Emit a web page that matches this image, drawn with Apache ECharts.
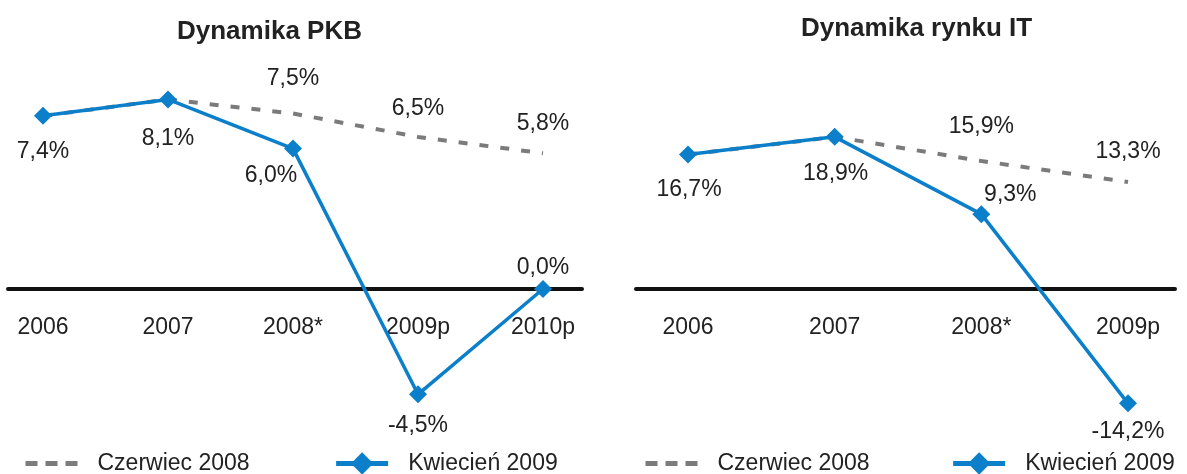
<!DOCTYPE html>
<html>
<head>
<meta charset="utf-8">
<script src="https://cdn.jsdelivr.net/npm/echarts@6.0.0/dist/echarts.min.js"></script>
<style>
  html, body { margin: 0; padding: 0; background: #ffffff; }
  #chart { width: 1187px; height: 474px; }
</style>
</head>
<body>
<div id="chart"></div>
<script>
// ---------------- DATA ----------------
const titlePKB = 'Dynamika PKB';
const titleIT = 'Dynamika rynku IT';
const seriesNames = ['Czerwiec 2008', 'Kwiecień 2009'];

const categoriesPKB = ['2006', '2007', '2008*', '2009p', '2010p'];
const pkbCzerwiec2008 = [7.4, 8.1, 7.5, 6.5, 5.8];
const pkbKwiecien2009 = [7.4, 8.1, 6.0, -4.5, 0.0];

const categoriesIT = ['2006', '2007', '2008*', '2009p'];
const itCzerwiec2008 = [16.7, 18.9, 15.9, 13.3];
const itKwiecien2009 = [16.7, 18.9, 9.3, -14.2];

// ---------------- STYLE ----------------
const FONT = "'Liberation Sans', Arial, Helvetica, sans-serif";
const TEXT = '#222222';
const BLUE = '#0b7fc9';
const GRAY = '#7b7b7b';

// label placement (offset of label centre from the point), null = hidden
const pkbCzerwienOffsets = [null, null, [0, -35], [0, -28], [0, -30]];
const pkbKwiecienOffsets = [[0, 36], [0, 39], [-22, 27], [0, 31], [0, -21]];
const itCzerwienOffsets = [null, null, [0, -34], [0, -30]];
const itKwiecienOffsets = [[1, 35], [1, 37], [29, -19], [0, 28]];

function fmt(v) { return v.toFixed(1).replace('.', ',') + '%'; }

function buildData(values, offsets) {
  return values.map((v, i) => {
    const off = offsets[i];
    if (!off) return { value: v, label: { show: false } };
    return { value: v, label: { show: true, position: 'inside', offset: off } };
  });
}

const labelStyle = {
  show: true,
  color: TEXT,
  fontSize: 23,
  fontFamily: FONT,
  formatter: p => fmt(p.value)
};

function dashedSeries(xi, values, offsets) {
  return {
    name: seriesNames[0], type: 'line', xAxisIndex: xi, yAxisIndex: xi,
    data: buildData(values, offsets),
    symbol: 'circle', symbolSize: 4,
    itemStyle: { color: 'rgba(0,0,0,0)' },
    lineStyle: { color: GRAY, width: 4, type: [9, 12] },
    label: labelStyle, z: 3, silent: true, animation: false
  };
}
function blueSeries(xi, values, offsets) {
  return {
    name: seriesNames[1], type: 'line', xAxisIndex: xi, yAxisIndex: xi,
    data: buildData(values, offsets),
    symbol: 'diamond', symbolSize: 18,
    itemStyle: { color: BLUE },
    lineStyle: { color: BLUE, width: 3.5 },
    label: labelStyle, z: 4, silent: true, animation: false
  };
}

// data axis (hidden) in the plot grids
function dataCatAxis(gi, cats) {
  return { type: 'category', gridIndex: gi, data: cats, boundaryGap: false, show: false };
}
// category label axis, sitting at the bottom of a grid whose bottom edge is the zero line
function labelCatAxis(gi, cats) {
  return {
    type: 'category', gridIndex: gi, data: cats, boundaryGap: false, position: 'bottom',
    axisLine: { show: false }, axisTick: { show: false },
    axisLabel: { color: TEXT, fontSize: 23, fontFamily: FONT, margin: 27, interval: 0 },
    splitLine: { show: false }
  };
}
function zeroAxis(gi) {
  return {
    type: 'value', gridIndex: gi, min: 0, max: 1,
    axisLine: { show: true, onZero: true, lineStyle: { color: '#111111', width: 4 } },
    axisTick: { show: false }, axisLabel: { show: false }, splitLine: { show: false }
  };
}
function valAxis(gi, min, max) {
  return { type: 'value', gridIndex: gi, min: min, max: max, show: false, splitLine: { show: false } };
}

function legendFor(left, gap) {
  return {
    left: left, top: 452, width: 544, orient: 'horizontal', padding: 0,
    itemWidth: 52, itemHeight: 28, itemGap: gap,
    selectedMode: false,
    textStyle: { color: TEXT, fontSize: 23, fontFamily: FONT, padding: [0, 0, 0, 15] },
    data: [
      { name: seriesNames[0], itemStyle: { opacity: 0 }, lineStyle: { color: GRAY, width: 5, type: [12, 8] } },
      { name: seriesNames[1], lineStyle: { color: BLUE, width: 5 } }
    ]
  };
}

function gridBox(left, width, top, height) {
  return { left: left, width: width, top: top, height: height, containLabel: false, outerBoundsMode: 'none' };
}

const option = {
  backgroundColor: '#ffffff',
  animation: false,
  textStyle: { fontFamily: FONT },
  title: [
    { text: titlePKB, left: 172, top: 14, textStyle: { fontSize: 26, fontWeight: 'bold', color: TEXT, fontFamily: FONT } },
    { text: titleIT, left: 796, top: 11, textStyle: { fontSize: 26, fontWeight: 'bold', color: TEXT, fontFamily: FONT } }
  ],
  legend: [legendFor(23, 84), legendFor(643, 81)],
  grid: [
    gridBox(43, 500, 55, 397.8),     // 0: PKB plot
    gridBox(688, 440, 95.8, 354.2),  // 1: IT plot
    gridBox(8, 574, 55, 397.8),      // 2: PKB zero line
    gridBox(636, 539, 95.8, 354.2),  // 3: IT zero line
    gridBox(43, 500, 55, 234),       // 4: PKB category labels (bottom = zero line)
    gridBox(688, 440, 95.8, 193.2)   // 5: IT category labels (bottom = zero line)
  ],
  xAxis: [
    dataCatAxis(0, categoriesPKB), dataCatAxis(1, categoriesIT),
    zeroAxis(2), zeroAxis(3),
    labelCatAxis(4, categoriesPKB), labelCatAxis(5, categoriesIT)
  ],
  yAxis: [
    valAxis(0, -7, 10), valAxis(1, -20, 24),
    valAxis(2, -7, 10), valAxis(3, -20, 24),
    valAxis(4, 0, 10), valAxis(5, 0, 24)
  ],
  series: [
    dashedSeries(0, pkbCzerwiec2008, pkbCzerwienOffsets),
    blueSeries(0, pkbKwiecien2009, pkbKwiecienOffsets),
    dashedSeries(1, itCzerwiec2008, itCzerwienOffsets),
    blueSeries(1, itKwiecien2009, itKwiecienOffsets)
  ]
};

const chart = echarts.init(document.getElementById('chart'), null, { renderer: 'canvas' });
chart.setOption(option);
</script>
</body>
</html>
